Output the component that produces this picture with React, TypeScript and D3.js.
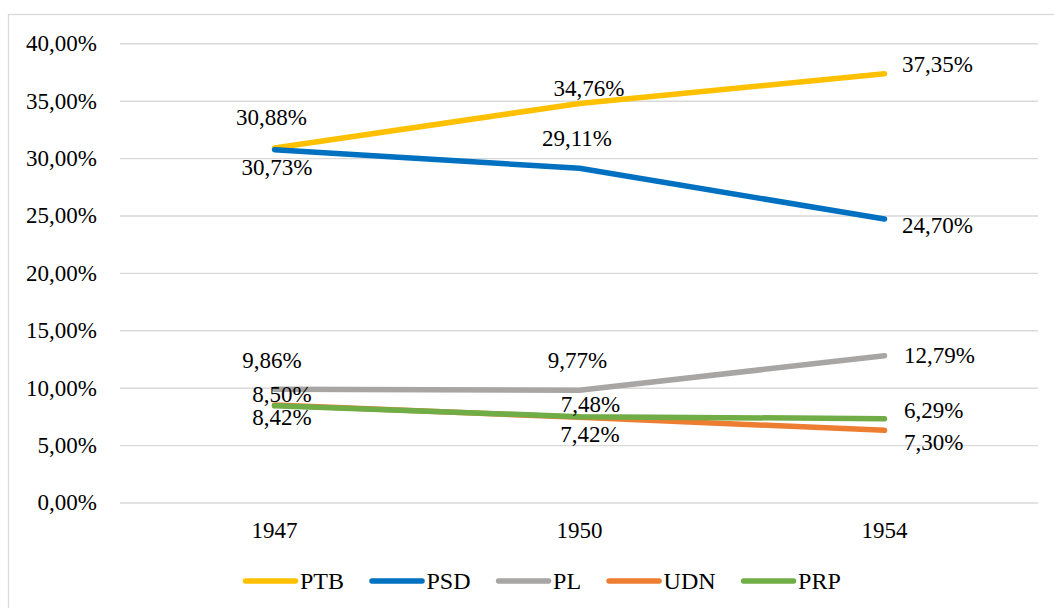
import React, { useEffect, useRef } from 'react';
import { select, scaleBand, scaleLinear, axisLeft, axisBottom, line } from 'd3';

const years = ['1947', '1950', '1954'];
const parties = ['PTB', 'PSD', 'PL', 'UDN', 'PRP'];
const ptbValues = [30.88, 34.76, 37.35];
const psdValues = [30.73, 29.11, 24.7];
const plValues = [9.86, 9.77, 12.79];
const udnValues = [8.5, 7.42, 6.29];
const prpValues = [8.42, 7.48, 7.3];
const yTicks = [0, 5, 10, 15, 20, 25, 30, 35, 40];

const seriesValues = [ptbValues, psdValues, plValues, udnValues, prpValues];
const colors = ['#FFC000', '#0070C0', '#A8A5A5', '#ED7D31', '#70AD47'];

// where each data label sits relative to its point: [dx, dy of text centre, anchor]
const labelPlacement: [number, number, string][][] = [
    [[-3, -31, 'middle'], [9.5, -15.5, 'middle'], [17.5, -9, 'start']],
    [[2.5, 18, 'middle'], [-2.5, -30, 'middle'], [17.5, 6, 'start']],
    [[-2.5, -29, 'middle'], [-2, -30, 'middle'], [19.5, 0, 'start']],
    [[7.5, -10.5, 'middle'], [10.5, 17, 'middle'], [19.5, -20, 'start']],
    [[7.5, 11.7, 'middle'], [11, -12.5, 'middle'], [19.5, 23.5, 'start']],
];

const FONT = '"Liberation Serif", "Times New Roman", serif';
const fmt = (v: number) => v.toFixed(2).replace('.', ',') + '%';

const App = () => {
    const ref = useRef<SVGSVGElement>(null);

    useEffect(() => {
        const svg = select(ref.current);
        svg.selectAll('*').remove();

        const width = 1054;
        const height = 608;
        const plotLeft = 120;
        const plotRight = 1038;

        svg.append('rect')
            .attr('x', 0).attr('y', 0).attr('width', width).attr('height', height)
            .attr('fill', '#fff');

        // chart area border
        svg.append('rect')
            .attr('x', 8.5).attr('y', 14.5)
            .attr('width', width + 20).attr('height', height + 20)
            .attr('fill', 'none').attr('stroke', '#d9d9d9').attr('stroke-width', 1.3);

        const xScale = scaleBand().domain(years).range([122, 1037]);
        const yScale = scaleLinear().domain([0, 40]).range([502.5, 43.3]);
        const xc = (y: string) => (xScale(y) as number) + xScale.bandwidth() / 2;

        const yAxis = svg.append('g')
            .attr('transform', `translate(${plotLeft},0)`)
            .call(axisLeft(yScale)
                .tickValues(yTicks)
                .tickSizeInner(-(plotRight - plotLeft))
                .tickSizeOuter(0)
                .tickPadding(23)
                .tickFormat((d: any) => fmt(d)));
        yAxis.select('.domain').remove();
        yAxis.selectAll('line').attr('stroke', '#d9d9d9').attr('stroke-width', 1.4);
        yAxis.selectAll('text')
            .attr('font-family', FONT).attr('font-size', 23).attr('fill', '#000');

        const xAxis = svg.append('g')
            .attr('transform', `translate(0,${yScale(0)})`)
            .call(axisBottom(xScale).tickSize(0).tickPadding(19));
        xAxis.select('.domain').remove();
        xAxis.selectAll('text')
            .attr('font-family', FONT).attr('font-size', 23).attr('fill', '#000');

        const lineGen = line<number>()
            .x((_, i) => xc(years[i]))
            .y((d) => yScale(d));

        seriesValues.forEach((vals, s) => {
            svg.append('path')
                .attr('d', lineGen(vals))
                .attr('fill', 'none')
                .attr('stroke', colors[s])
                .attr('stroke-width', 5.5)
                .attr('stroke-linecap', 'round')
                .attr('stroke-linejoin', 'round');
        });

        seriesValues.forEach((vals, s) => {
            vals.forEach((v, i) => {
                const [dx, dy, anchor] = labelPlacement[s][i];
                svg.append('text')
                    .attr('x', xc(years[i]) + dx)
                    .attr('y', yScale(v) + dy)
                    .attr('dy', '0.33em')
                    .attr('text-anchor', anchor)
                    .attr('font-family', FONT)
                    .attr('font-size', 23)
                    .attr('fill', '#000')
                    .text(fmt(v));
            });
        });

        // legend
        let lx = 243;
        const ly = 581;
        parties.forEach((p, s) => {
            const g = svg.append('g');
            g.append('line')
                .attr('x1', lx + 2.5).attr('x2', lx + 52.5)
                .attr('y1', ly).attr('y2', ly)
                .attr('stroke', colors[s])
                .attr('stroke-width', 5.5)
                .attr('stroke-linecap', 'round');
            const t = g.append('text')
                .attr('x', lx + 57)
                .attr('y', ly)
                .attr('dy', '0.33em')
                .attr('font-family', FONT)
                .attr('font-size', 24)
                .attr('fill', '#000')
                .text(p);
            const w = (t.node() as SVGTextElement).getComputedTextLength();
            lx += 57 + w + 25.5;
        });
    }, []);

    return (
        <svg
            ref={ref}
            width={1054}
            height={608}
            style={{ position: 'absolute', left: 0, top: 0 }}
        ></svg>
    );
};

export default App;
